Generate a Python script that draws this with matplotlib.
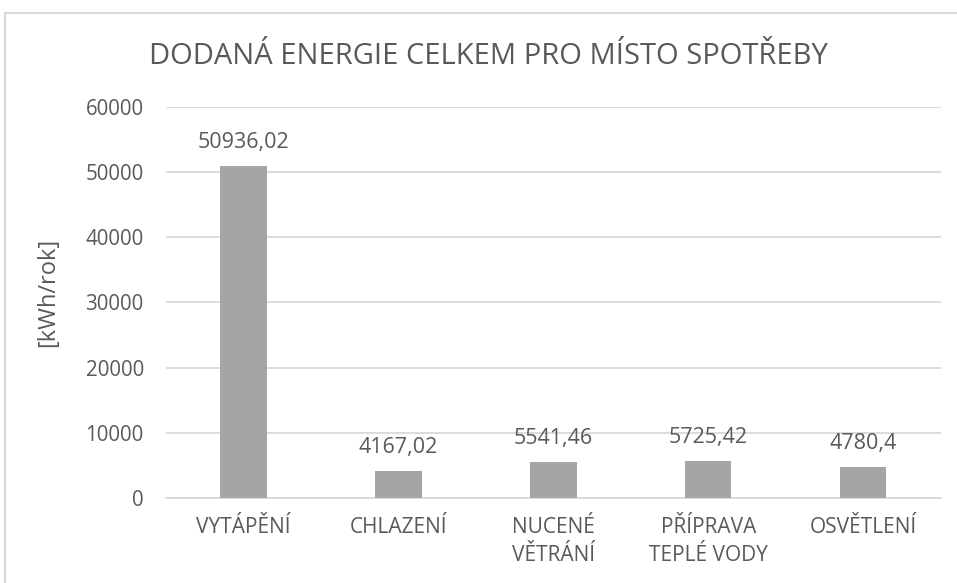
import matplotlib.pyplot as plt
from matplotlib.patches import Rectangle

# data
categories = ['VYTÁPĚNÍ', 'CHLAZENÍ', 'NUCENÉ\nVĚTRÁNÍ', 'PŘÍPRAVA\nTEPLÉ VODY', 'OSVĚTLENÍ']
values = [50936.02, 4167.02, 5541.46, 5725.42, 4780.4]
value_labels = ['50936,02', '4167,02', '5541,46', '5725,42', '4780,4']
yticks = [0, 10000, 20000, 30000, 40000, 50000, 60000]

text_col = '#595959'
grid_col = '#D9D9D9'
bar_col = '#A5A5A5'

plt.rcParams['font.family'] = ['Open Sans', 'DejaVu Sans']

W, H = 957, 583
fig = plt.figure(figsize=(W / 100, H / 100), dpi=100)

# chart frame (cut by the image edges on the right and bottom)
fig.patches.append(Rectangle((5 / W, -0.1), 1.2, 1 - 13 / H + 0.1, transform=fig.transFigure,
                             fill=False, edgecolor=grid_col, linewidth=1.5))

ax = fig.add_axes([166 / W, 1 - 498 / H, (940.6 - 166) / W, (498 - 106.7) / H])

x = range(len(categories))
ax.bar(x, values, width=0.30, color=bar_col, zorder=3)
ax.set_xlim(-0.5, len(categories) - 0.5)
ax.set_ylim(0, 60000)
ax.set_yticks(yticks)
ax.set_yticklabels([str(t) for t in yticks])
ax.set_xticks(list(x))
ax.set_xticklabels(categories, linespacing=1.4)

ax.grid(axis='y', color=grid_col, linewidth=1.3, zorder=0)
for s in ['top', 'right', 'left']:
    ax.spines[s].set_visible(False)
ax.spines['bottom'].set_color(grid_col)
ax.spines['bottom'].set_linewidth(1.3)
ax.tick_params(axis='y', length=0, pad=16, labelsize=14.8, labelcolor=text_col)
ax.tick_params(axis='x', length=0, pad=14, labelsize=15, labelcolor=text_col)

for xi, v, lab in zip(x, values, value_labels):
    ax.annotate(lab, (xi, v), xytext=(0, 13), textcoords='offset points',
                ha='center', va='baseline', fontsize=15.5, color=text_col)

# axis title
fig.text(48 / W, 1 - 292 / H, '[kWh/rok]', rotation=90, ha='center', va='center',
         fontsize=17, color=text_col)

fig.text(488 / W, 1 - 64 / H, 'DODANÁ ENERGIE CELKEM PRO MÍSTO SPOTŘEBY', ha='center', va='baseline',
         fontsize=21, color=text_col)

fig.savefig('out.png', dpi=100)
